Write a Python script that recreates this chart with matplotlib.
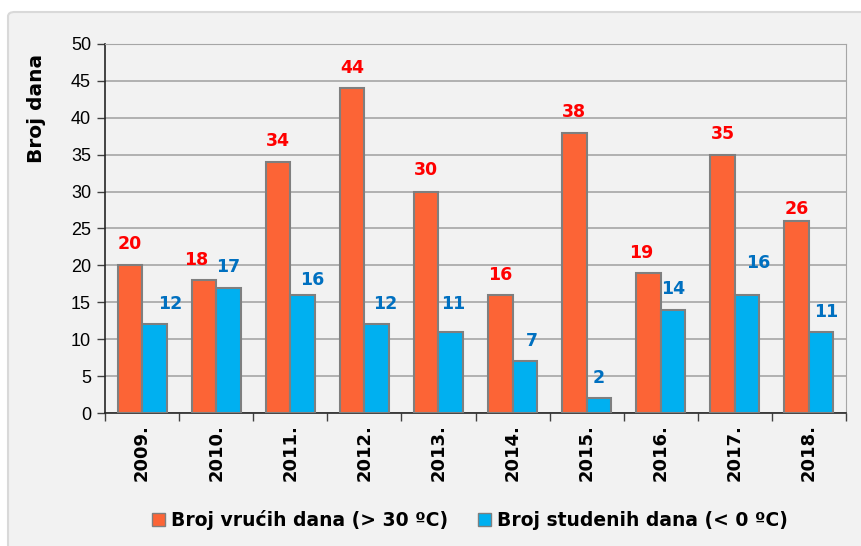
import numpy as np
import matplotlib.pyplot as plt
from matplotlib.patches import FancyBboxPatch, Patch

years = ["2009.", "2010.", "2011.", "2012.", "2013.", "2014.", "2015.", "2016.", "2017.", "2018."]
hot_days = [20, 18, 34, 44, 30, 16, 38, 19, 35, 26]
cold_days = [12, 17, 16, 12, 11, 7, 2, 14, 16, 11]
hot_label = "Broj vrućih dana (> 30 ºC)"
cold_label = "Broj studenih dana (< 0 ºC)"

# label placement as in the original (x shift in px, y lift in axis units)
hot_dx = [0, -7.5, 0, 0, 0, 0, 0, -7, 0, 0]
hot_dy = [2.9, 2.7, 2.9, 2.7, 2.9, 2.7, 2.8, 2.7, 2.8, 1.6]
cold_dx = [16, 0, 9.5, 9, 3, 7, 0, 0, 11, 5]
cold_dy = [2.8, 2.8, 2.0, 2.8, 3.8, 2.75, 2.7, 2.8, 4.3, 2.7]

ORANGE = "#FC6436"
BLUE = "#00B0F0"
BG = "#F2F2F2"

fig = plt.figure(figsize=(8.61, 5.46), dpi=100)
fig.patch.set_facecolor("white")

# outer chart frame
frame = FancyBboxPatch((8 / 861, -0.05), 1.0, 1 - 12 / 546 + 0.05,
                       boxstyle="round,pad=0,rounding_size=0.008",
                       transform=fig.transFigure, facecolor=BG,
                       edgecolor="#D9D9D9", linewidth=1.5, zorder=-10)
fig.patches.append(frame)

ax = fig.add_axes([105 / 861, 1 - 413 / 546, (846 - 105) / 861, (413 - 44) / 546])
ax.set_facecolor(BG)

x = np.arange(len(years))
w = 0.33
ax.bar(x - w / 2, hot_days, w, color=ORANGE, edgecolor="#7F7F7F", linewidth=1.5, zorder=3, label=hot_label)
ax.bar(x + w / 2, cold_days, w, color=BLUE, edgecolor="#7F7F7F", linewidth=1.5, zorder=3, label=cold_label)

px = 1 / 74.1
for i in range(len(years)):
    ax.text(x[i] - w / 2 + hot_dx[i] * px, hot_days[i] + hot_dy[i], str(hot_days[i]),
            ha="center", va="center", color="#FF0000", fontsize=12.5, fontweight="bold")
    ax.text(x[i] + w / 2 + cold_dx[i] * px, cold_days[i] + cold_dy[i], str(cold_days[i]),
            ha="center", va="center", color="#0070C0", fontsize=12.5, fontweight="bold")

ax.set_xlim(-0.5, len(years) - 0.5)
ax.set_ylim(0, 50)
ax.set_yticks(range(0, 51, 5))
ax.yaxis.grid(True, color="#A6A6A6", linewidth=1.2, zorder=0)
ax.set_axisbelow(True)

ax.set_xticks(x)
ax.set_xticklabels(years, rotation=90, fontsize=13, fontweight="bold")
ax.set_xticks(np.arange(-0.5, len(years)), minor=True)
ax.tick_params(axis="x", which="major", length=0, pad=8)
ax.tick_params(axis="x", which="minor", length=6, width=1, color="#404040", direction="out")
ax.tick_params(axis="y", length=6, width=1, color="#404040", labelsize=13, pad=4)
for lbl in ax.get_yticklabels():
    lbl.set_fontfamily("Liberation Sans")

for s in ["left", "bottom"]:
    ax.spines[s].set_color("#262626")
    ax.spines[s].set_linewidth(1.2)
ax.spines["top"].set_color("#A6A6A6")
ax.spines["right"].set_color("#A6A6A6")

fig.text(37 / 861, 1 - 108 / 546, "Broj dana", rotation=90, ha="center", va="center",
         fontsize=14.5, fontweight="bold")

handles = [Patch(facecolor=ORANGE, edgecolor="#7F7F7F"), Patch(facecolor=BLUE, edgecolor="#7F7F7F")]
fig.legend(handles, [hot_label, cold_label], loc="center", bbox_to_anchor=(470 / 861, 1 - 520 / 546),
           ncol=2, frameon=False, handlelength=0.7, handleheight=0.7, handletextpad=0.3,
           columnspacing=1.6, prop={"weight": "bold", "size": 13.5})

plt.savefig("out.png", dpi=100, facecolor=fig.get_facecolor())
